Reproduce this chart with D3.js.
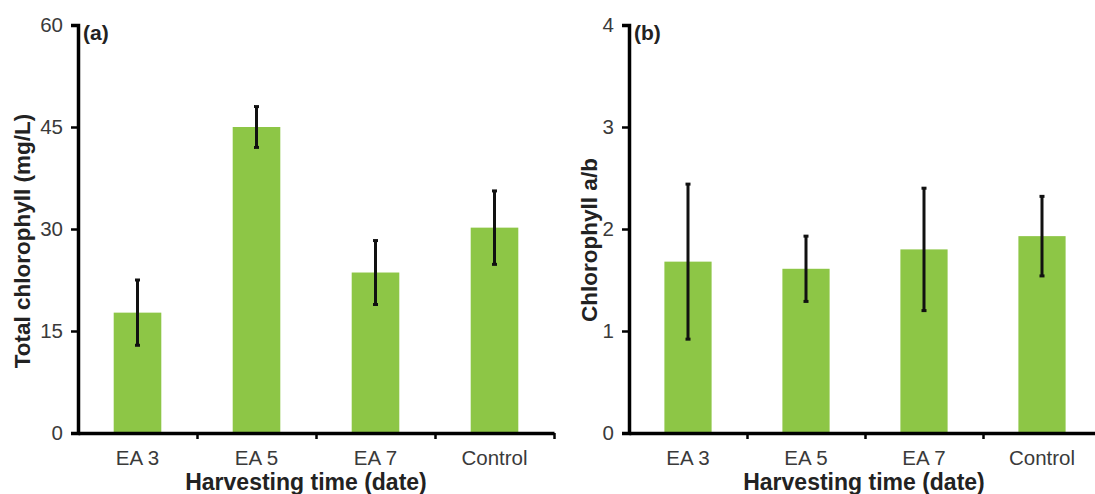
<!DOCTYPE html>
<html>
<head>
<meta charset="utf-8">
<script src="https://cdn.jsdelivr.net/npm/d3@7/dist/d3.min.js"></script>
<style>
  html, body { margin: 0; padding: 0; background: #fff; }
  svg { display: block; }
  text { font-family: "Liberation Sans", Arial, sans-serif; }
</style>
</head>
<body>
<svg id="chart" width="1095" height="494"></svg>
<script>
// Harvest groups shared by both panels
const categories = ["EA 3", "EA 5", "EA 7", "Control"];

// (a) total chlorophyll, mg/L, with error
const totalChl = [17.7, 45.0, 23.6, 30.2];
const totalChlErr = [4.8, 3.0, 4.7, 5.4];
const totalTicks = [0, 15, 30, 45, 60];

// (b) chlorophyll a/b ratio, with error
const ratioAB = [1.68, 1.61, 1.80, 1.93];
const ratioABErr = [0.76, 0.32, 0.60, 0.39];
const ratioTicks = [0, 1, 2, 3, 4];

const svg = d3.select("#chart");
const plotTop = 25, plotBottom = 433;
const barColor = "#8dc646";

const panels = [
  { letter: "(a)", values: totalChl, errors: totalChlErr, ticks: totalTicks,
    yTitle: "Total chlorophyll (mg/L)", x0: 78, x1: 554,
    yTitleX: 30, yTitleY: 241, xTitleX: 306 },
  { letter: "(b)", values: ratioAB, errors: ratioABErr, ticks: ratioTicks,
    yTitle: "Chlorophyll a/b", x0: 629, x1: 1101,
    yTitleX: 597, yTitleY: 240, xTitleX: 864 }
];

panels.forEach(p => {
  const g = svg.append("g");
  const y = d3.scaleLinear()
    .domain([0, d3.max(p.ticks)])
    .range([plotBottom, plotTop]);
  const x = d3.scaleBand()
    .domain(categories)
    .range([p.x0, p.x1])
    .paddingInner(0.6)
    .paddingOuter(0.3);
  // boundaries between groups for the x tick marks
  const edge = d3.scaleLinear().domain([0, categories.length]).range([p.x0, p.x1]);

  // bars
  g.selectAll("rect.bar")
    .data(p.values)
    .join("rect")
    .attr("class", "bar")
    .attr("x", (d, i) => x(categories[i]))
    .attr("width", x.bandwidth())
    .attr("y", d => y(d))
    .attr("height", d => y(0) - y(d))
    .attr("fill", barColor);

  // error bars
  const eb = g.selectAll("g.err")
    .data(p.values.map((v, i) => ({ v, e: p.errors[i], c: categories[i] })))
    .join("g")
    .attr("class", "err")
    .attr("stroke", "#111")
    .attr("stroke-width", 3);
  eb.append("line")
    .attr("x1", d => x(d.c) + x.bandwidth() / 2)
    .attr("x2", d => x(d.c) + x.bandwidth() / 2)
    .attr("y1", d => y(d.v - d.e))
    .attr("y2", d => y(d.v + d.e));
  [-1, 1].forEach(s => {
    eb.append("line")
      .attr("x1", d => x(d.c) + x.bandwidth() / 2 - 2.5)
      .attr("x2", d => x(d.c) + x.bandwidth() / 2 + 2.5)
      .attr("y1", d => y(d.v + s * d.e))
      .attr("y2", d => y(d.v + s * d.e));
  });

  // x axis: line with marks between groups
  const xAxis = g.append("g")
    .attr("transform", `translate(0,${plotBottom})`)
    .call(d3.axisBottom(edge)
      .tickValues(d3.range(1, categories.length + 1))
      .tickSize(6)
      .tickSizeOuter(0)
      .tickFormat(""));
  xAxis.select(".domain").attr("stroke", "#000").attr("stroke-width", 3.5);
  xAxis.selectAll(".tick line").attr("stroke", "#000").attr("stroke-width", 2.5);

  // category labels
  g.selectAll("text.cat")
    .data(categories)
    .join("text")
    .attr("class", "cat")
    .attr("x", d => x(d) + x.bandwidth() / 2)
    .attr("y", 465)
    .attr("text-anchor", "middle")
    .attr("font-size", 20.5)
    .attr("fill", "#3a3a3a")
    .text(d => d);

  // y axis
  const yAxis = g.append("g")
    .attr("transform", `translate(${p.x0},0)`)
    .call(d3.axisLeft(y)
      .tickValues(p.ticks)
      .tickFormat(d3.format("d"))
      .tickSize(7)
      .tickSizeOuter(7)
      .tickPadding(8));
  yAxis.select(".domain").attr("stroke", "#000").attr("stroke-width", 3.5);
  yAxis.selectAll(".tick line").attr("stroke", "#000").attr("stroke-width", 2.5);
  yAxis.selectAll(".tick text")
    .attr("font-size", 20.5)
    .attr("font-family", "Liberation Sans, Arial, sans-serif")
    .attr("fill", "#3a3a3a");

  // axis titles
  g.append("text")
    .attr("x", p.xTitleX)
    .attr("y", 490)
    .attr("text-anchor", "middle")
    .attr("font-size", 23)
    .attr("font-weight", "bold")
    .attr("fill", "#222")
    .text("Harvesting time (date)");

  g.append("text")
    .attr("transform", `translate(${p.yTitleX},${p.yTitleY}) rotate(-90)`)
    .attr("text-anchor", "middle")
    .attr("font-size", 22.5)
    .attr("font-weight", "bold")
    .attr("fill", "#222")
    .text(p.yTitle);

  // panel letter
  g.append("text")
    .attr("x", p.x0 + 5)
    .attr("y", 40)
    .attr("font-size", 21)
    .attr("font-weight", "bold")
    .attr("fill", "#222")
    .text(p.letter);
});
</script>
</body>
</html>
